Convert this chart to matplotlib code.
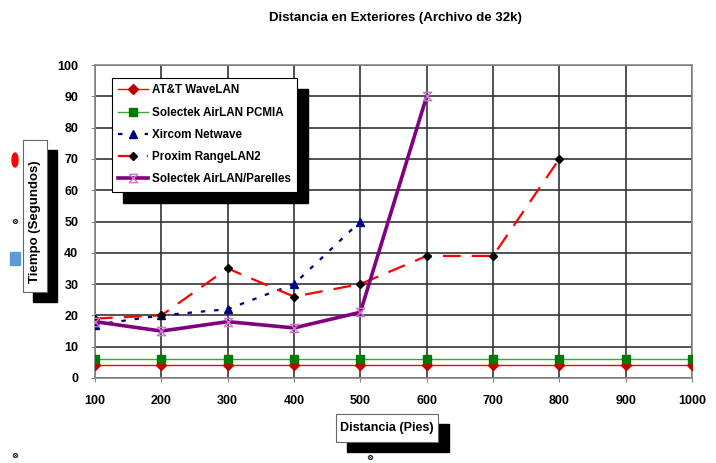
import matplotlib
matplotlib.use("Agg")
import matplotlib.pyplot as plt
from matplotlib.patches import Rectangle, Ellipse
import numpy as np

plt.rcParams['font.family'] = ['Liberation Sans', 'DejaVu Sans']
plt.rcParams['font.weight'] = 'bold'

# data
distancia = [100, 200, 300, 400, 500, 600, 700, 800, 900, 1000]
att_wavelan = [4, 4, 4, 4, 4, 4, 4, 4, 4, 4]
solectek_pcmia = [6, 6, 6, 6, 6, 6, 6, 6, 6, 6]
xircom_x = [100, 200, 300, 400, 500]
xircom = [17, 20, 22, 30, 50]
proxim_x = [100, 200, 300, 400, 500, 600, 700, 800]
proxim = [19, 20, 35, 26, 30, 39, 39, 70]
parelles_x = [100, 200, 300, 400, 500, 600]
parelles = [18, 15, 18, 16, 21, 90]
nombres = ["AT&T WaveLAN", "Solectek AirLAN PCMIA", "Xircom Netwave",
           "Proxim RangeLAN2", "Solectek AirLAN/Parelles"]

W, H = 716, 463
fs = 9
fig = plt.figure(figsize=(W / 100, H / 100), dpi=100)
ax = fig.add_axes([95 / W, 1 - 378 / H, (692 - 95) / W, (378 - 65) / H])

hourglass = [(-1, 1), (1, 1), (-1, -1), (1, -1), (-1, 1)]

ax.plot(distancia, att_wavelan, color="red", lw=1, marker="D", ms=5,
        mfc="#c00000", mec="#c00000", label=nombres[0], zorder=3)
ax.plot(distancia, solectek_pcmia, color="#33aa33", lw=1, marker="s", ms=6,
        mfc="#007a00", mec="#007a00", label=nombres[1], zorder=3)
ax.plot(xircom_x, xircom, color="#000080", lw=1.6, ls=(0, (2, 4)), marker="^",
        ms=6, mfc="#000080", mec="#000080", label=nombres[2], zorder=3)
ax.plot(proxim_x, proxim, color="red", lw=1.6, ls=(0, (8, 5)), marker="D",
        ms=4.5, mfc="black", mec="black", label=nombres[3], zorder=3)
ax.plot(parelles_x, parelles, color="#800080", lw=2.6, marker=hourglass,
        ms=6, mfc="none", mec="#cc77cc", mew=1, label=nombres[4], zorder=3)

ax.set_xlim(100, 1000)
ax.set_ylim(0, 100)
ax.set_xticks(distancia)
ax.set_yticks(np.arange(0, 101, 10))
ax.grid(True, color="#333333", lw=1.2)
ax.set_axisbelow(True)
for s in ax.spines.values():
    s.set_color("#888888")
    s.set_linewidth(1.2)
ax.tick_params(labelsize=fs, length=3, color="#888888", pad=9)

fig.text(395 / W, 1 - 18 / H, "Distancia en Exteriores (Archivo de 32k)",
         ha="center", va="center", fontsize=fs + 0.5, fontweight="bold")

leg = ax.legend(loc="upper left", bbox_to_anchor=(112 / W, 1 - 78 / H),
                bbox_transform=fig.transFigure, borderaxespad=0,
                fancybox=False, framealpha=1, edgecolor="black",
                fontsize=fs - 0.6, handlelength=2.5, labelspacing=0.88,
                handletextpad=0.35, borderpad=0.55)
leg.get_frame().set_linewidth(0.8)
leg.set_zorder(6)

fig.canvas.draw()
bb = leg.get_window_extent().transformed(fig.transFigure.inverted())
ax.add_patch(Rectangle((bb.x0 + 11 / W, bb.y0 - 11 / H), bb.width, bb.height,
                       transform=fig.transFigure, color="black", zorder=5,
                       clip_on=False))

# y label box with shadow
fig.patches.append(Rectangle((33 / W, 1 - 302 / H), 24 / W, 152 / H,
                             transform=fig.transFigure, color="black", zorder=1))
fig.patches.append(Rectangle((23 / W, 1 - 292 / H), 24 / W, 152 / H,
                             transform=fig.transFigure, fc="white", ec="#666666",
                             lw=0.8, zorder=2))
fig.text(35 / W, 1 - 222 / H, "Tiempo (Segundos)", rotation=90, ha="center",
         va="center", fontsize=fs + 0.5, fontweight="bold", zorder=3)

# x label box with shadow
fig.patches.append(Rectangle((347 / W, 1 - 452 / H), 102 / W, 28 / H,
                             transform=fig.transFigure, color="black", zorder=1))
fig.patches.append(Rectangle((336 / W, 1 - 442 / H), 102 / W, 28 / H,
                             transform=fig.transFigure, fc="white", ec="#666666",
                             lw=0.8, zorder=2))
fig.text(387 / W, 1 - 428 / H, "Distancia (Pies)", ha="center", va="center",
         fontsize=fs, fontweight="bold", zorder=3)

# stray marks at the left edge of the original
fig.patches.append(Ellipse((15 / W, 1 - 160 / H), 6 / W, 14 / H,
                           transform=fig.transFigure, color="red", zorder=1))
fig.patches.append(Rectangle((10 / W, 1 - 265 / H), 10 / W, 13 / H,
                             transform=fig.transFigure, color="#5b9bd5", zorder=1))
for px, py in [(15, 222), (15, 455), (370, 457)]:
    fig.text(px / W, 1 - py / H, "⊗", ha="center", va="center", fontsize=6,
             family="DejaVu Sans")

fig.savefig("out.png", dpi=100)
